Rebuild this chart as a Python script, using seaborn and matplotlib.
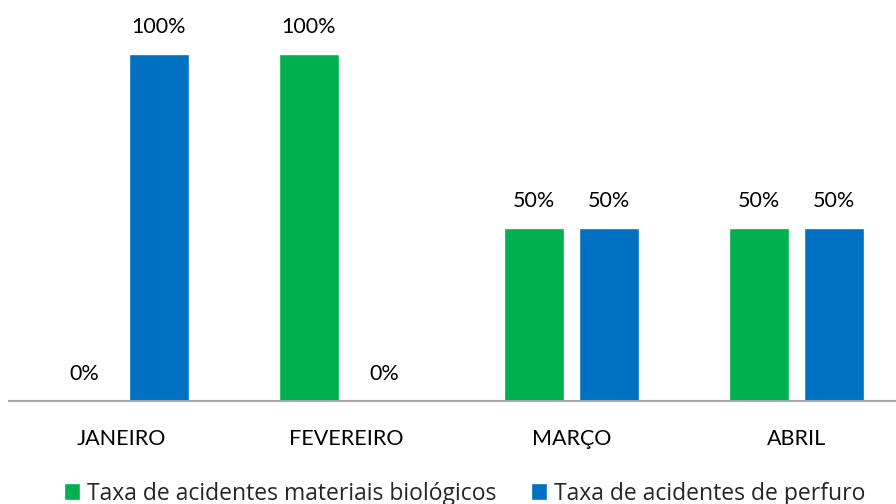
import matplotlib
matplotlib.use("Agg")
import matplotlib.pyplot as plt
import seaborn as sns
import pandas as pd

# data
months = ["JANEIRO", "FEVEREIRO", "MARÇO", "ABRIL"]
series_names = ["Taxa de acidentes materiais biológicos", "Taxa de acidentes de perfuro"]
bio_rate = [0.0, 1.0, 0.5, 0.5]
perf_rate = [1.0, 0.0, 0.5, 0.5]
colors = ["#00B050", "#0070C0"]

df = pd.DataFrame({
    "mes": months * 2,
    "serie": [series_names[0]] * 4 + [series_names[1]] * 4,
    "taxa": bio_rate + perf_rate,
})

sns.set_style("white")
plt.rcParams["font.family"] = ["Lato", "DejaVu Sans"]

fig = plt.figure(figsize=(8.96, 5.04), dpi=100)
# axes extends a little past the right edge, as in the original
ax = fig.add_axes([9 / 896, 103 / 504, 900 / 896, 381.7 / 504])

sns.barplot(data=df, x="mes", y="taxa", hue="serie", order=months,
            hue_order=series_names, palette=colors, width=2 / 3, gap=0.2,
            saturation=1, errorbar=None, ax=ax, legend=True)

ax.set_ylim(0, 1.1)
ax.set_xlim(-0.5, 3.5)
for c in ax.containers:
    ax.bar_label(c, labels=[f"{v * 100:.0f}%" for v in c.datavalues],
                 padding=12, fontsize=15.5, color="#000000")

ax.set_xlabel("")
ax.set_ylabel("")
ax.set_yticks([])
ax.tick_params(axis="x", length=0, pad=20, labelsize=15.5, labelcolor="#000000")
for s in ["top", "left", "right"]:
    ax.spines[s].set_visible(False)
ax.spines["bottom"].set_color("#A6A6A6")
ax.spines["bottom"].set_linewidth(1.5)

handles, labels = ax.get_legend_handles_labels()
ax.get_legend().remove()
fig.legend(handles, labels, loc="center", bbox_to_anchor=(464.5 / 896, 10.5 / 504),
           ncol=2, frameon=False, handlelength=0.7, handleheight=0.7,
           handletextpad=0.3, columnspacing=1.5,
           prop={"family": "Open Sans", "size": 16.5})

fig.savefig("out.png", dpi=100)
